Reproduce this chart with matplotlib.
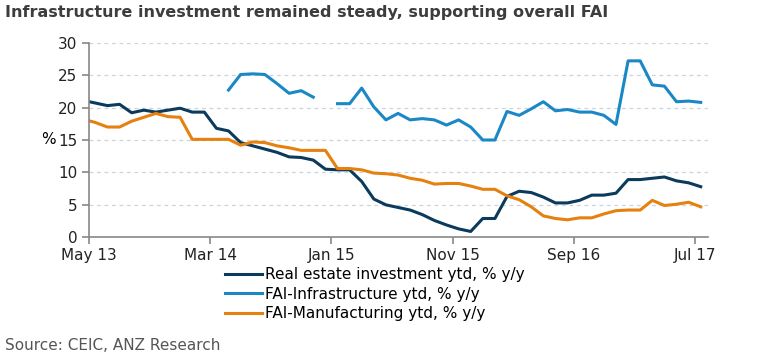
import numpy as np
import matplotlib
matplotlib.use('Agg')
import matplotlib.pyplot as plt

nan = np.nan
# monthly, Apr 13 .. Jul 17 (Apr 13 sits left of the axis and gets clipped)
months = ['Apr 13', 'May 13', 'Jun 13', 'Jul 13', 'Aug 13', 'Sep 13', 'Oct 13', 'Nov 13', 'Dec 13',
          'Jan 14', 'Feb 14', 'Mar 14', 'Apr 14', 'May 14', 'Jun 14', 'Jul 14', 'Aug 14', 'Sep 14',
          'Oct 14', 'Nov 14', 'Dec 14', 'Jan 15', 'Feb 15', 'Mar 15', 'Apr 15', 'May 15', 'Jun 15',
          'Jul 15', 'Aug 15', 'Sep 15', 'Oct 15', 'Nov 15', 'Dec 15', 'Jan 16', 'Feb 16', 'Mar 16',
          'Apr 16', 'May 16', 'Jun 16', 'Jul 16', 'Aug 16', 'Sep 16', 'Oct 16', 'Nov 16', 'Dec 16',
          'Jan 17', 'Feb 17', 'Mar 17', 'Apr 17', 'May 17', 'Jun 17', 'Jul 17']

real_estate = [21.1, 20.7, 20.3, 20.5, 19.2, 19.6, 19.3, 19.6, 19.9,
               19.3, 19.3, 16.8, 16.4, 14.6, 14.1, 13.6, 13.1, 12.4,
               12.3, 11.9, 10.5, 10.4, 10.4, 8.6, 5.9, 5.0, 4.6,
               4.2, 3.5, 2.6, 1.9, 1.3, 0.9, 2.9, 2.9, 6.3,
               7.1, 6.9, 6.2, 5.3, 5.3, 5.7, 6.5, 6.5, 6.8,
               8.9, 8.9, 9.1, 9.3, 8.7, 8.4, 7.8]

infrastructure = [nan, nan, nan, nan, nan, nan, nan, nan, nan,
                  nan, nan, nan, 22.7, 25.1, 25.2, 25.1, 23.7, 22.2,
                  22.6, 21.6, nan, 20.6, 20.6, 23.0, 20.1, 18.1, 19.1,
                  18.1, 18.3, 18.1, 17.3, 18.1, 17.0, 15.0, 15.0, 19.4,
                  18.8, 19.8, 20.9, 19.5, 19.7, 19.3, 19.3, 18.8, 17.4,
                  27.2, 27.2, 23.5, 23.3, 20.9, 21.0, 20.8]

manufacturing = [18.2, 17.7, 17.0, 17.0, 17.9, 18.5, 19.1, 18.6, 18.5,
                 15.1, 15.1, 15.1, 15.1, 14.2, 14.7, 14.6, 14.1, 13.8,
                 13.4, 13.4, 13.4, 10.6, 10.6, 10.4, 9.9, 9.8, 9.6,
                 9.1, 8.8, 8.2, 8.3, 8.3, 7.9, 7.4, 7.4, 6.4,
                 5.8, 4.7, 3.3, 2.9, 2.7, 3.0, 3.0, 3.6, 4.1,
                 4.2, 4.2, 5.7, 4.9, 5.1, 5.4, 4.7]

tick_labels = ['May 13', 'Mar 14', 'Jan 15', 'Nov 15', 'Sep 16', 'Jul 17']

# points sit mid-month, ticks at the start of the month
x = np.arange(len(months)) - 1 + 0.5
ticks = [months.index(t) - 1 for t in tick_labels]

plt.rcParams['font.family'] = 'DejaVu Sans'
fig = plt.figure(figsize=(7.65, 3.6), dpi=100)
ax = fig.add_axes([89.3 / 765, 1 - 237.3 / 360, 618.7 / 765, 194.6 / 360])

ax.plot(x, real_estate, color='#0b3a5c', lw=2.2, label='Real estate investment ytd, % y/y')
ax.plot(x, infrastructure, color='#1b88c6', lw=2.2, label='FAI-Infrastructure ytd, % y/y')
ax.plot(x, manufacturing, color='#e6800e', lw=2.2, label='FAI-Manufacturing ytd, % y/y')

ax.set_xlim(0, 51.1)
ax.set_ylim(0, 30)
ax.set_yticks(range(0, 31, 5))
ax.set_xticks(ticks)
ax.set_xticklabels(tick_labels)
ax.tick_params(labelsize=11, colors='#222222', length=5, width=1.2, color='#888888')
ax.tick_params(axis='x', pad=3)

for y in range(5, 31, 5):
    ax.axhline(y, color='#c9d4dc', lw=0.9, ls=(0, (3, 3)), zorder=0)

for s in ['top', 'right']:
    ax.spines[s].set_visible(False)
for s in ['left', 'bottom']:
    ax.spines[s].set_color('#888888')
    ax.spines[s].set_linewidth(1.2)

ax.set_ylabel('%', rotation=0, fontsize=11, va='center', ha='center')
ax.yaxis.set_label_coords(-0.066, 0.5)

fig.legend(loc='upper left', bbox_to_anchor=(225 / 765, 1 - 267 / 360), frameon=False,
           fontsize=11, handlelength=2.4, handletextpad=0.2, labelspacing=0.3,
           borderpad=0, borderaxespad=0)

fig.text(5 / 765, 1 - 13 / 360, 'Infrastructure investment remained steady, supporting overall FAI',
         fontsize=11.5, fontweight='bold', color='#3d3d3d', va='center', ha='left')
fig.text(5 / 765, 1 - 345 / 360, 'Source: CEIC, ANZ Research', fontsize=11, color='#555555',
         va='center', ha='left')

fig.savefig('out.png', dpi=100)
